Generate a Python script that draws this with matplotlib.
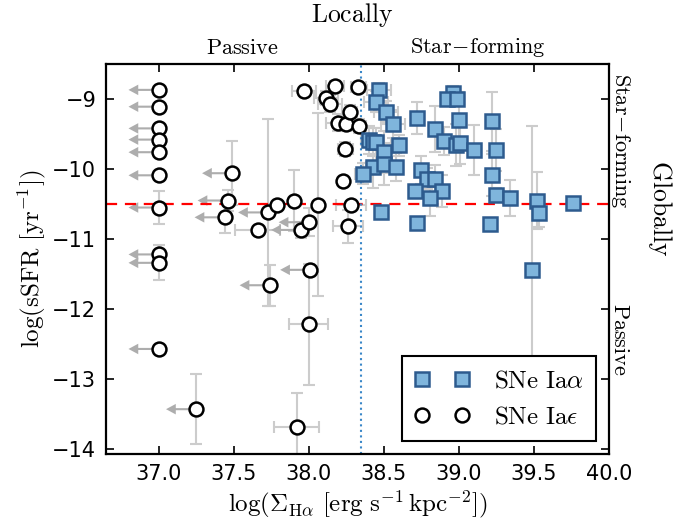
import numpy as np
import matplotlib
matplotlib.use('Agg')
import matplotlib.pyplot as plt

plt.rcParams['mathtext.fontset'] = 'cm'
plt.rcParams['font.family'] = ['DejaVu Sans']

# ---------------- data ----------------
# SNe Ia-epsilon (open circles)
eps_x = [37.00, 37.00, 37.00, 37.00, 37.00, 37.00, 37.00, 37.00, 37.00, 37.00,
         37.25, 37.49, 37.46, 37.44, 37.66, 37.73, 37.74, 37.79, 37.90, 37.97,
         37.95, 38.00, 38.01, 38.00, 37.92, 38.06, 38.115, 38.14, 38.175, 38.195,
         38.25, 38.245, 38.23, 38.275, 38.335, 38.33, 38.28, 38.26]
eps_y = [-8.87, -9.11, -9.42, -9.58, -9.76, -10.09, -10.55, -11.22, -11.34, -12.57,
         -13.43, -10.06, -10.45, -10.69, -10.87, -10.62, -11.66, -10.51, -10.45, -8.89,
         -10.87, -10.76, -11.44, -12.22, -13.68, -10.51, -8.99, -9.07, -8.82, -9.34,
         -9.36, -9.71, -10.17, -9.19, -9.38, -8.83, -10.51, -10.82]
eps_xerr = [0, 0, 0, 0, 0, 0, 0, 0, 0, 0,
            0, 0, 0, 0, 0.15, 0, 0, 0, 0, 0.08,
            0, 0, 0, 0.13, 0.15, 0, 0.08, 0.08, 0.06, 0.08,
            0.06, 0.05, 0, 0.05, 0.05, 0.05, 0.10, 0.10]
eps_yerr = [0, 0, 0, 0, 0, 0, 0.24, 0, 0.25, 0,
            0.50, 0.46, 0.15, 0.23, 0, 1.33, 0.29, 0, 0.43, 0,
            0.12, 0.20, 0, 0.87, 0.48, 1.31, 0.10, 0.12, 0.08, 0.12,
            0.10, 0.10, 0, 0.10, 0.10, 0.05, 0.05, 0.23]
eps_uplim = [1, 1, 1, 1, 1, 1, 1, 1, 1, 1,
             1, 1, 1, 1, 0, 1, 1, 0, 0, 0,
             1, 1, 1, 0, 0, 0, 0, 0, 0, 0,
             0, 0, 0, 0, 0, 0, 0, 0]

# SNe Ia-alpha (blue squares)
alp_x = [38.47, 38.45, 38.515, 38.56, 38.40, 38.43, 38.45, 38.60, 38.50, 38.43,
         38.50, 38.58, 38.36, 38.48, 38.72, 38.84, 38.90, 38.96, 38.92, 38.99,
         39.00, 38.98, 39.01, 39.10, 39.22, 39.25, 39.22, 39.25, 39.34, 39.21,
         39.52, 39.535, 39.76, 38.75, 38.79, 38.84, 38.89, 38.71, 38.81, 38.72,
         39.49]
alp_y = [-8.87, -9.04, -9.18, -9.36, -9.58, -9.61, -9.62, -9.66, -9.76, -9.97,
         -9.93, -9.97, -10.07, -10.62, -9.27, -9.43, -9.60, -8.91, -9.00, -9.00,
         -9.30, -9.66, -9.63, -9.73, -9.32, -9.73, -10.09, -10.37, -10.41, -10.79,
         -10.45, -10.63, -10.48, -10.02, -10.14, -10.14, -10.31, -10.32, -10.42, -10.77,
         -11.44]
alp_xerr = [0.08, 0.08, 0.08, 0.08, 0.05, 0.05, 0.05, 0.05, 0.05, 0.05,
            0.05, 0.05, 0.05, 0, 0, 0, 0, 0, 0, 0,
            0, 0, 0, 0, 0, 0, 0, 0, 0, 0,
            0, 0, 0, 0, 0, 0, 0, 0, 0, 0,
            0]
alp_yerr = [0.10, 0.15, 0.15, 0.20, 0.20, 0.20, 0.20, 0.15, 0.30, 0.30,
            0.30, 0.20, 0.15, 0, 0.23, 0.33, 0.20, 0.10, 0.08, 0.10,
            0.40, 0.30, 0.30, 0.36, 0.42, 0.30, 0.30, 0.10, 0.26, 0,
            0.41, 0.20, 0, 0.20, 0.15, 0.20, 0.23, 0, 0.25, 0,
            2.06]

sfr_cut = -10.5        # global sSFR divide
sigma_cut = 38.35      # local Halpha divide
limit_len = 0.2        # length of upper-limit arrows (dex)

# ---------------- figure ----------------
fig = plt.figure(figsize=(6.99, 5.24), dpi=100)
ax = fig.add_axes([0.1516, 0.1336, 0.7196, 0.7443])

ERRC = '0.80'
ARRC = '0.68'

ax.errorbar(eps_x, eps_y, xerr=eps_xerr, yerr=eps_yerr, fmt='none',
            ecolor=ERRC, elinewidth=1.5, capsize=4.5, capthick=1.5, zorder=1)
ax.errorbar(alp_x, alp_y, xerr=alp_xerr, yerr=alp_yerr, fmt='none',
            ecolor=ERRC, elinewidth=1.5, capsize=4.5, capthick=1.5, zorder=1)

for x, y, u in zip(eps_x, eps_y, eps_uplim):
    if u:
        ax.arrow(x, y, -limit_len, 0, width=0.03, head_width=0.15,
                 head_length=0.065, length_includes_head=True,
                 fc=ARRC, ec='none', zorder=1.5)

ax.axhline(sfr_cut, color='red', ls=(0, (5, 3.5)), lw=1.6, zorder=2)
ax.axvline(sigma_cut, color='#3a87c8', ls=':', lw=1.5, zorder=2)

ax.plot(alp_x, alp_y, 's', ms=9.5, mfc='#7fb5dc', mec='#2d5b8e', mew=1.8,
        ls='none', zorder=4, label=r'$\mathrm{SNe\ Ia}\alpha$')
ax.plot(eps_x, eps_y, 'o', ms=10, mfc='white', mec='black', mew=1.8,
        ls='none', zorder=3, label=r'$\mathrm{SNe\ Ia}\epsilon$')

ax.set_xlim(36.65, 40.0)
ax.set_ylim(-14.07, -8.5)
ax.set_xticks([37.0, 37.5, 38.0, 38.5, 39.0, 39.5, 40.0])
ax.set_yticks([-14, -13, -12, -11, -10, -9])
ax.set_xticklabels(['37.0', '37.5', '38.0', '38.5', '39.0', '39.5', '40.0'])
ax.tick_params(direction='in', top=True, right=True, length=5.5, width=1.2,
               labelsize=15, pad=7)
for s in ax.spines.values():
    s.set_linewidth(1.6)

ax.set_xlabel(r'$\log(\Sigma_{\mathrm{H}\alpha}\ [\mathrm{erg\ s^{-1}\,kpc^{-2}}])$',
              fontsize=18, labelpad=3)
ax.set_ylabel(r'$\log(\mathrm{sSFR}\ [\mathrm{yr}^{-1}])$', fontsize=18, labelpad=3)

leg = ax.legend(loc='lower right', numpoints=2, fontsize=18, fancybox=False,
                framealpha=1, edgecolor='black', borderaxespad=0.5,
                handlelength=2.2, handletextpad=1.0, borderpad=0.5)
leg.get_frame().set_linewidth(1.5)

# region labels
ax.text(0.489, 1.126, r'$\mathrm{Locally}$', transform=ax.transAxes,
        ha='center', va='center', fontsize=18.5)
ax.text(0.272, 1.041, r'$\mathrm{Passive}$', transform=ax.transAxes,
        ha='center', va='center', fontsize=16)
ax.text(0.740, 1.041, r'$\mathrm{Star\!-\!forming}$', transform=ax.transAxes,
        ha='center', va='center', fontsize=16)
ax.text(1.022, 0.803, r'$\mathrm{Star\!-\!forming}$', transform=ax.transAxes,
        ha='center', va='center', fontsize=16, rotation=-90)
ax.text(1.022, 0.295, r'$\mathrm{Passive}$', transform=ax.transAxes,
        ha='center', va='center', fontsize=16, rotation=-90)
ax.text(1.101, 0.630, r'$\mathrm{Globally}$', transform=ax.transAxes,
        ha='center', va='center', fontsize=18.5, rotation=-90)

fig.savefig('out.png', dpi=100)
